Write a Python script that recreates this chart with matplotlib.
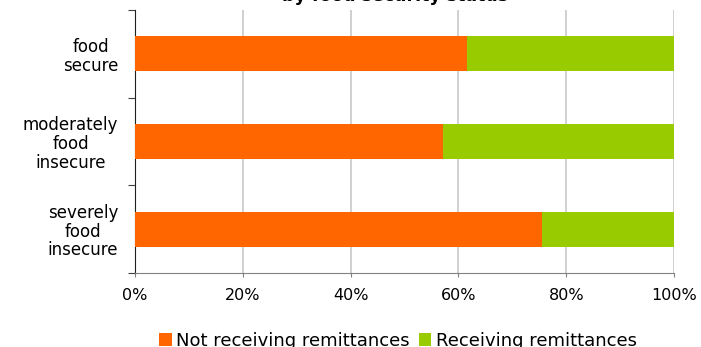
import numpy as np
import matplotlib
matplotlib.use("Agg")
import matplotlib.pyplot as plt

# remittance share by food security status (percent of households)
categories = ["food\nsecure", "moderately\nfood\ninsecure", "severely\nfood\ninsecure"]
not_receiving = [61.6, 57.1, 75.5]
receiving = [100 - v for v in not_receiving]
series_names = ["Not receiving remittances", "Receiving remittances"]
x_ticks = [0, 20, 40, 60, 80, 100]

plt.rcParams["font.family"] = ["DejaVu Sans"]

fig = plt.figure(figsize=(7.01, 3.47), dpi=100)
ax = fig.add_axes([135 / 701, 74 / 347, 539 / 701, 263 / 347])

y = np.arange(len(categories))
h1 = ax.barh(y, not_receiving, height=0.4, color="#FF6600", zorder=3,
             label=series_names[0])
h2 = ax.barh(y, receiving, left=not_receiving, height=0.4, color="#99CC00",
             zorder=3, label=series_names[1])

ax.set_xlim(0, 100)
ax.set_ylim(len(categories) - 0.5, -0.5)

ax.set_xticks(x_ticks)
ax.set_xticklabels([f"{t}%" for t in x_ticks], fontsize=11.5)
ax.tick_params(axis="x", length=3, color="#808080", pad=8)
ax.grid(axis="x", color="#C8C8C8", linewidth=1.2, zorder=0)

# tick marks between groups, labels at group centres
ax.set_yticks(np.arange(-0.5, len(categories)))
ax.set_yticklabels([])
ax.tick_params(axis="y", which="major", length=5, color="#404040")
ax.set_yticks(y, minor=True)
ax.set_yticklabels(categories, minor=True, fontsize=12, multialignment="center",
                   linespacing=1.05)
ax.tick_params(axis="y", which="minor", length=0, pad=12)

for s in ["top", "right"]:
    ax.spines[s].set_visible(False)
ax.spines["left"].set_color("#202020")
ax.spines["bottom"].set_color("#808080")

fig.text(395 / 701, 1 - 5 / 347, "by food security status", ha="center",
         va="bottom", fontsize=12.5, fontweight="bold")

fig.legend(handles=[h1, h2], loc="center", bbox_to_anchor=(398 / 701, 1 - 341 / 347),
           ncol=2, frameon=False, fontsize=13, handlelength=0.7, handleheight=0.7,
           handletextpad=0.25, columnspacing=0.5)

fig.savefig("out.png", dpi=100)
